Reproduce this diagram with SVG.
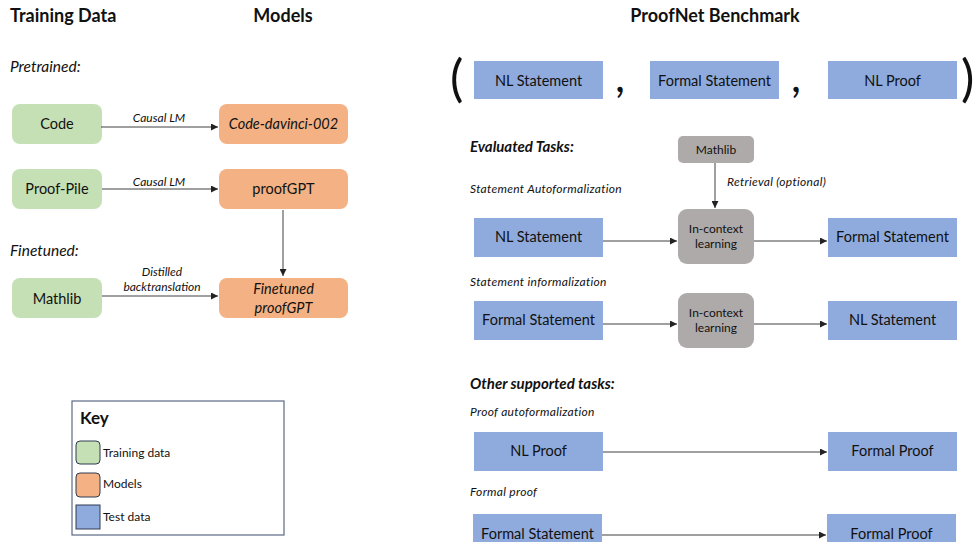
<svg xmlns="http://www.w3.org/2000/svg" width="979" height="542" viewBox="0 0 979 542">
<style>
text{font-family:Lato,"Liberation Sans",sans-serif;fill:#111}
.h{font-size:18px;font-weight:bold}
.sec{font-size:15.5px;font-style:italic}
.bt{font-size:14.5px;text-anchor:middle}
.lbl{font-size:12px;font-style:italic;text-anchor:middle}
.tsk{font-size:12px;font-style:italic;letter-spacing:0.3px}
.tb{font-size:15px;font-style:italic;font-weight:bold}
.sm{font-size:12px;text-anchor:middle}
.key{font-size:12px}
.g{fill:#C5E0B4}
.o{fill:#F4B183}
.b{fill:#8FAADC}
.gr{fill:#AEAAAA}
.cn line{stroke:#404040;stroke-width:1;fill:none}
.p{font-size:50px;font-weight:normal}
.cm{font-size:44px}
</style>
<defs>
<marker id="ah" viewBox="0 0 8 8" refX="8" refY="4" markerWidth="7" markerHeight="7" markerUnits="userSpaceOnUse" orient="auto"><path d="M0,0 L8,4 L0,8 z" fill="#222"/></marker>
</defs>
<rect width="979" height="542" fill="#fff"/>

<text class="h" x="10" y="22">Training Data</text>
<text class="h" x="283" y="22" text-anchor="middle">Models</text>
<text class="h" x="715" y="22" text-anchor="middle">ProofNet Benchmark</text>

<text class="sec" x="10" y="72">Pretrained:</text>
<text class="sec" x="10" y="256">Finetuned:</text>

<g id="code"><rect class="g" x="12" y="104" width="90" height="40" rx="8"/><text class="bt" x="57" y="129">Code</text></g>
<g id="codedavinci"><rect class="o" x="219" y="104" width="129" height="40" rx="8"/><text class="bt" x="283.5" y="129" font-style="italic">Code-davinci-002</text></g>
<g id="proofpile"><rect class="g" x="12" y="169" width="90" height="40" rx="8"/><text class="bt" x="57" y="194">Proof-Pile</text></g>
<g id="proofgpt"><rect class="o" x="219" y="169" width="129" height="40" rx="8"/><text class="bt" x="283.5" y="194">proofGPT</text></g>
<g id="mathlib-train"><rect class="g" x="12" y="278" width="90" height="40" rx="8"/><text class="bt" x="57" y="304">Mathlib</text></g>
<g id="finetuned"><rect class="o" x="219" y="278" width="129" height="40" rx="8"/><text class="bt" x="283.5" y="294" font-style="italic">Finetuned</text><text class="bt" x="283.5" y="313" font-style="italic">proofGPT</text></g>

<g id="key">
<rect x="72" y="401" width="212" height="134" fill="#fff" stroke="#5B6A85" stroke-width="1.2"/>
<text x="80" y="424" font-size="17" font-weight="bold">Key</text>
<rect class="g" x="76" y="441" width="24" height="23" rx="4" stroke="#2F3B52" stroke-width="1"/>
<text class="key" x="103" y="457">Training data</text>
<rect class="o" x="76" y="473" width="24" height="24" rx="4" stroke="#2F3B52" stroke-width="1"/>
<text class="key" x="103" y="488">Models</text>
<rect class="b" x="76" y="505" width="24" height="24" stroke="#2F3B52" stroke-width="1"/>
<text class="key" x="103" y="521">Test data</text>
</g>

<text class="p" x="450" y="96">(</text>
<text class="p" x="961" y="96">)</text>
<text class="cm" x="615" y="92">,</text>
<text class="cm" x="791" y="92">,</text>

<g id="bench-nl"><rect class="b" x="474" y="61" width="129" height="38"/><text class="bt" x="538.5" y="86">NL Statement</text></g>
<g id="bench-formal"><rect class="b" x="650" y="61" width="129" height="38"/><text class="bt" x="714.5" y="86">Formal Statement</text></g>
<g id="bench-proof"><rect class="b" x="828" y="61" width="129" height="38"/><text class="bt" x="892.5" y="86">NL Proof</text></g>

<text class="tb" x="470" y="152">Evaluated Tasks:</text>
<text class="tsk" x="470" y="193">Statement Autoformalization</text>
<text class="tsk" x="727" y="186">Retrieval  (optional)</text>
<text class="tsk" x="470" y="286">Statement informalization</text>
<text class="tb" x="470" y="389">Other supported tasks:</text>
<text class="tsk" x="470" y="416">Proof  autoformalization</text>
<text class="tsk" x="470" y="496">Formal proof</text>

<g id="mathlib-ret"><rect class="gr" x="678" y="136" width="76" height="27" rx="5"/><text class="sm" x="716" y="154">Mathlib</text></g>
<g id="icl1"><rect class="gr" x="678" y="209" width="76" height="55" rx="9"/><text class="sm" x="716" y="233">In-context</text><text class="sm" x="716" y="248">learning</text></g>
<g id="icl2"><rect class="gr" x="678" y="293" width="76" height="55" rx="9"/><text class="sm" x="716" y="317">In-context</text><text class="sm" x="716" y="332">learning</text></g>

<g id="af-nl"><rect class="b" x="474" y="218" width="129" height="39"/><text class="bt" x="538.5" y="242">NL Statement</text></g>
<g id="af-formal"><rect class="b" x="828" y="218" width="129" height="39"/><text class="bt" x="892.5" y="242">Formal Statement</text></g>
<g id="inf-formal"><rect class="b" x="474" y="301" width="129" height="39"/><text class="bt" x="538.5" y="325">Formal Statement</text></g>
<g id="inf-nl"><rect class="b" x="828" y="301" width="129" height="39"/><text class="bt" x="892.5" y="325">NL Statement</text></g>
<g id="pa-nl"><rect class="b" x="474" y="432" width="129" height="39"/><text class="bt" x="538.5" y="456">NL Proof</text></g>
<g id="pa-formal"><rect class="b" x="828" y="432" width="129" height="39"/><text class="bt" x="892.5" y="456">Formal Proof</text></g>
<g id="fp-stmt"><rect class="b" x="473" y="514" width="129" height="39"/><text class="bt" x="537.5" y="539">Formal Statement</text></g>
<g id="fp-proof"><rect class="b" x="827" y="514" width="129" height="39"/><text class="bt" x="891.5" y="539">Formal Proof</text></g>

<g id="connectors" class="cn">
<line x1="101" y1="127" x2="218" y2="127" marker-end="url(#ah)"/>
<line x1="102" y1="189" x2="218" y2="189" marker-end="url(#ah)"/>
<line x1="283" y1="210" x2="283" y2="276" marker-end="url(#ah)"/>
<line x1="102" y1="296" x2="218" y2="296" marker-end="url(#ah)"/>
<line x1="715" y1="163" x2="715" y2="208" marker-end="url(#ah)"/>
<line x1="603" y1="241" x2="677" y2="241" marker-end="url(#ah)"/>
<line x1="754" y1="241" x2="827" y2="241" marker-end="url(#ah)"/>
<line x1="603" y1="324" x2="677" y2="324" marker-end="url(#ah)"/>
<line x1="754" y1="324" x2="827" y2="324" marker-end="url(#ah)"/>
<line x1="603" y1="452" x2="827" y2="452" marker-end="url(#ah)"/>
<line x1="602" y1="535" x2="826" y2="535" marker-end="url(#ah)"/>
</g>
<g font-style="italic">
<text class="lbl" x="159" y="122">Causal LM</text>
<text class="lbl" x="159" y="186">Causal LM</text>
<text class="lbl" x="162" y="276">Distilled</text>
<text class="lbl" x="162" y="291">backtranslation</text>
</g>
</svg>
